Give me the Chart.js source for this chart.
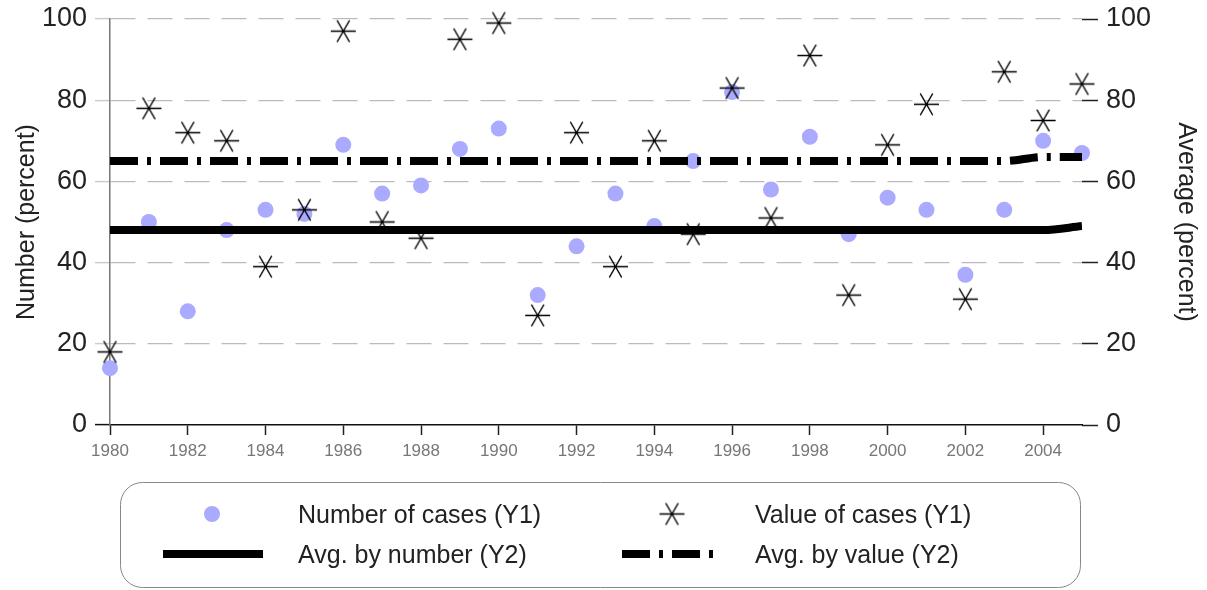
<!DOCTYPE html>
<html lang="en">
<head>
    <meta charset="UTF-8">
    <title>Cases chart</title>
    <script src="https://cdn.jsdelivr.net/npm/chart.js"></script>
    <style>
        body { margin: 0; background: #fff; }
        #wrap { width: 1207px; height: 590px; position: relative; }
    </style>
</head>
<body>
<div id="wrap"><canvas id="myChart"></canvas></div>
<script>
    // data
    var years = [1980, 1981, 1982, 1983, 1984, 1985, 1986, 1987, 1988, 1989, 1990, 1991, 1992,
                 1993, 1994, 1995, 1996, 1997, 1998, 1999, 2000, 2001, 2002, 2003, 2004, 2005];
    var numberOfCases = [14, 50, 28, 48, 53, 52, 69, 57, 59, 68, 73, 32, 44,
                         57, 49, 65, 82, 58, 71, 47, 56, 53, 37, 53, 70, 67];
    var valueOfCases = [18, 78, 72, 70, 39, 53, 97, 50, 46, 95, 99, 27, 72,
                        39, 70, 47, 83, 51, 91, 32, 69, 79, 31, 87, 75, 84];
    var avgByNumber = [48, 48, 48, 48, 48, 48, 48, 48, 48, 48, 48, 48, 48,
                       48, 48, 48, 48, 48, 48, 48, 48, 48, 48, 48, 48, 49];
    var avgByValue = [65, 65, 65, 65, 65, 65, 65, 65, 65, 65, 65, 65, 65,
                      65, 65, 65, 65, 65, 65, 65, 65, 65, 65, 65, 66, 66];
    var xTicks = [1980, 1982, 1984, 1986, 1988, 1990, 1992, 1994, 1996, 1998, 2000, 2002, 2004];
    var yTicks = [0, 20, 40, 60, 80, 100];

    var FONT = "'Liberation Sans', Arial, sans-serif";
    var dashDot = [28, 9, 4, 9];

    function pairs(vals) {
        return years.map(function (y, i) { return { x: y, y: vals[i] }; });
    }
    function asTicks(list) {
        return function (s) { s.ticks = list.map(function (v) { return { value: v }; }); };
    }

    // asterisk marker: horizontal arm plus two diagonals
    function makeStar(r) {
        var c = document.createElement('canvas');
        var s = Math.ceil(r * 2 + 2);
        c.width = s; c.height = s;
        var g = c.getContext('2d');
        var m = s / 2;
        g.strokeStyle = '#000';
        g.lineWidth = 1.3;
        g.beginPath();
        for (var k = 0; k < 3; k++) {
            var a = k * Math.PI / 3;
            g.moveTo(m - r * Math.cos(a), m - r * Math.sin(a));
            g.lineTo(m + r * Math.cos(a), m + r * Math.sin(a));
        }
        g.stroke();
        return c;
    }
    var starImg = makeStar(12.5);

    // legend box drawn under the plot
    var boxLegend = {
        id: 'boxLegend',
        afterDraw: function (chart) {
            var ctx = chart.ctx;
            var ds = chart.data.datasets;
            ctx.save();
            ctx.strokeStyle = '#888';
            ctx.lineWidth = 1;
            ctx.beginPath();
            ctx.roundRect(120.5, 482.5, 960, 105, 22);
            ctx.stroke();

            ctx.font = '25px ' + FONT;
            ctx.textBaseline = 'middle';
            ctx.textAlign = 'left';

            // row 1
            ctx.fillStyle = ds[2].backgroundColor;
            ctx.beginPath();
            ctx.arc(212, 514, 8, 0, Math.PI * 2);
            ctx.fill();
            ctx.drawImage(starImg, 672 - starImg.width / 2, 514 - starImg.height / 2);
            ctx.fillStyle = '#222';
            ctx.fillText(ds[2].label, 298, 516);
            ctx.fillText(ds[3].label, 755, 516);

            // row 2
            ctx.strokeStyle = '#000';
            ctx.lineWidth = 8;
            ctx.beginPath();
            ctx.moveTo(163, 554); ctx.lineTo(263, 554);
            ctx.stroke();
            ctx.setLineDash(ds[1].borderDash);
            ctx.beginPath();
            ctx.moveTo(622, 554); ctx.lineTo(722, 554);
            ctx.stroke();
            ctx.setLineDash([]);
            ctx.fillText(ds[0].label, 298, 556);
            ctx.fillText(ds[1].label, 755, 556);
            ctx.restore();
        }
    };

    function fitY(w) {
        return function (s) {
            s.width = w;
            s.paddingTop = 0;
            s.paddingBottom = 0;
        };
    }

    var ctx = document.getElementById('myChart').getContext('2d');
    var myChart = new Chart(ctx, {
        type: 'line',
        data: {
            datasets: [{
                label: 'Avg. by number (Y2)',
                data: pairs(avgByNumber),
                yAxisID: 'y2',
                borderColor: '#000',
                borderWidth: 8,
                pointRadius: 0,
                cubicInterpolationMode: 'monotone',
                order: 0
            }, {
                label: 'Avg. by value (Y2)',
                data: pairs(avgByValue),
                yAxisID: 'y2',
                borderColor: '#000',
                borderWidth: 8,
                borderDash: dashDot,
                pointRadius: 0,
                cubicInterpolationMode: 'monotone',
                order: 1
            }, {
                label: 'Number of cases (Y1)',
                data: pairs(numberOfCases),
                yAxisID: 'y',
                showLine: false,
                backgroundColor: 'rgb(170,170,255)',
                borderWidth: 0,
                pointRadius: 8,
                pointHoverRadius: 8,
                clip: false,
                order: 3
            }, {
                label: 'Value of cases (Y1)',
                data: pairs(valueOfCases),
                yAxisID: 'y',
                showLine: false,
                pointStyle: starImg,
                clip: false,
                order: 2
            }]
        },
        options: {
            responsive: true,
            maintainAspectRatio: false,
            animation: false,
            layout: { padding: { top: 19, left: 0, right: 0, bottom: 0 } },
            plugins: {
                legend: { display: false },
                tooltip: { enabled: false }
            },
            scales: {
                x: {
                    type: 'linear',
                    min: years[0],
                    max: years[years.length - 1],
                    afterBuildTicks: asTicks(xTicks),
                    ticks: {
                        padding: 6,
                        color: '#777',
                        font: { family: FONT, size: 17 },
                        callback: function (v) { return String(v); }
                    },
                    grid: { drawOnChartArea: false, tickLength: 10, tickColor: '#222', tickWidth: 1.5 },
                    border: { color: '#111', width: 1.5 },
                    afterFit: function (s) { s.height = 165; }
                },
                y: {
                    position: 'left',
                    min: 0,
                    max: 100,
                    afterBuildTicks: asTicks(yTicks),
                    ticks: { padding: 8, color: '#222', font: { family: FONT, size: 27 } },
                    grid: {
                        color: function (c) { return c.tick && c.tick.value === 0 ? 'rgba(0,0,0,0)' : '#bbb'; },
                        lineWidth: 1.2,
                        tickLength: 15,
                        tickColor: function (c) { return c.tick && c.tick.value === 0 ? '#111' : '#ccc'; },
                        tickWidth: 1.5
                    },
                    border: { color: '#777', width: 1.5, dash: [25, 12] },
                    title: {
                        display: true,
                        text: 'Number (percent)',
                        color: '#222',
                        font: { family: FONT, size: 25 },
                        padding: { top: 12, bottom: 0 }
                    },
                    afterFit: fitY(110)
                },
                y2: {
                    position: 'right',
                    min: 0,
                    max: 100,
                    afterBuildTicks: asTicks(yTicks),
                    ticks: { padding: 8, color: '#222', font: { family: FONT, size: 27 } },
                    grid: { drawOnChartArea: false, tickLength: 16, tickColor: '#222', tickWidth: 1.5 },
                    border: { display: false },
                    title: {
                        display: true,
                        text: 'Average (percent)',
                        color: '#222',
                        font: { family: FONT, size: 25 },
                        padding: { top: 6, bottom: 0 }
                    },
                    afterFit: fitY(125)
                }
            }
        },
        plugins: [boxLegend]
    });
</script>
</body>
</html>
